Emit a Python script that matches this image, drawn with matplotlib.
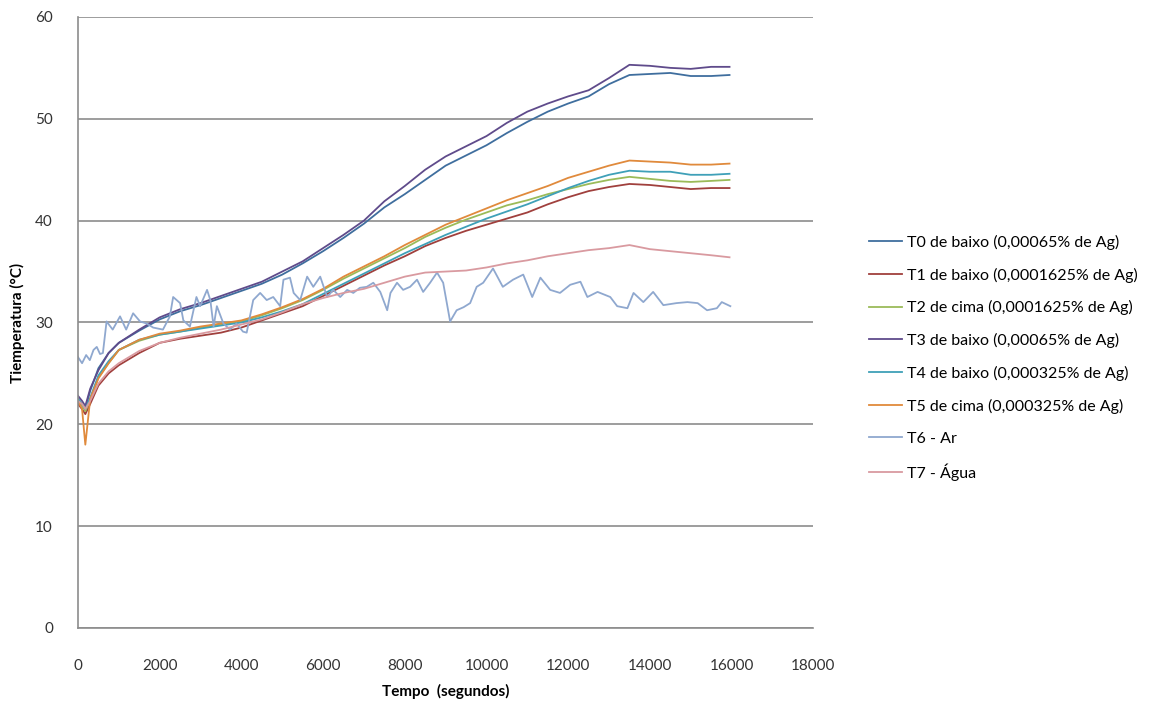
import matplotlib
matplotlib.use("Agg")
import matplotlib.pyplot as plt

plt.rcParams["font.family"] = ["Lato", "DejaVu Sans"]

# sample times (s) for the smooth probes
t_main = [0, 100, 180, 300, 500, 750, 1000, 1500, 2000, 2500, 3000, 3500, 4000,
          4500, 5000, 5500, 6000, 6500, 7000, 7500, 8000, 8500, 9000, 9500,
          10000, 10500, 11000, 11500, 12000, 12500, 13000, 13500, 14000, 14500,
          15000, 15500, 15950]

t0 = [22.5, 22.0, 21.5, 23.3, 25.5, 27.0, 28.0, 29.2, 30.3, 31.1, 31.7, 32.4, 33.1,
      33.8, 34.7, 35.8, 37.0, 38.3, 39.7, 41.3, 42.6, 44.0, 45.4, 46.4,
      47.4, 48.6, 49.7, 50.7, 51.5, 52.2, 53.4, 54.3, 54.4, 54.5, 54.2, 54.2, 54.3]
t1 = [22.0, 21.5, 21.0, 22.0, 23.8, 25.0, 25.8, 27.0, 28.0, 28.4, 28.7, 29.0, 29.5,
      30.2, 30.9, 31.6, 32.6, 33.6, 34.6, 35.6, 36.5, 37.5, 38.3, 39.0,
      39.6, 40.2, 40.8, 41.6, 42.3, 42.9, 43.3, 43.6, 43.5, 43.3, 43.1, 43.2, 43.2]
t2 = [22.3, 21.8, 21.3, 22.4, 24.6, 26.0, 27.3, 28.2, 28.8, 29.1, 29.5, 29.8, 30.1,
      30.7, 31.4, 32.2, 33.2, 34.3, 35.3, 36.3, 37.3, 38.4, 39.3, 40.1,
      40.8, 41.5, 42.0, 42.6, 43.1, 43.6, 44.0, 44.3, 44.1, 43.9, 43.8, 43.9, 44.0]
t3 = [22.8, 22.3, 21.8, 23.5, 25.3, 27.0, 28.0, 29.3, 30.5, 31.3, 31.9, 32.6, 33.3,
      34.0, 35.0, 36.0, 37.3, 38.6, 40.0, 41.9, 43.4, 45.0, 46.3, 47.3,
      48.3, 49.6, 50.7, 51.5, 52.2, 52.8, 54.0, 55.3, 55.2, 55.0, 54.9, 55.1, 55.1]
t4 = [22.5, 22.0, 21.5, 22.6, 24.8, 26.2, 27.3, 28.3, 28.8, 29.1, 29.4, 29.7, 30.0,
      30.5, 31.1, 31.8, 32.8, 33.8, 34.8, 35.8, 36.8, 37.7, 38.6, 39.4,
      40.2, 40.9, 41.6, 42.4, 43.2, 43.9, 44.5, 44.9, 44.8, 44.8, 44.5, 44.5, 44.6]
t5 = [22.3, 21.5, 18.0, 22.5, 24.5, 26.0, 27.3, 28.3, 28.9, 29.2, 29.6, 29.9, 30.2,
      30.8, 31.5, 32.3, 33.3, 34.5, 35.5, 36.5, 37.6, 38.6, 39.6, 40.4,
      41.2, 42.0, 42.7, 43.4, 44.2, 44.8, 45.4, 45.9, 45.8, 45.7, 45.5, 45.5, 45.6]
t7 = [22.3, 22.0, 21.5, 22.3, 24.0, 25.2, 26.0, 27.2, 28.0, 28.5, 28.9, 29.3, 29.8,
      30.3, 31.0, 31.8, 32.4, 32.9, 33.3, 33.9, 34.5, 34.9, 35.0, 35.1,
      35.4, 35.8, 36.1, 36.5, 36.8, 37.1, 37.3, 37.6, 37.2, 37.0, 36.8, 36.6, 36.4]

# air probe, sampled more densely because it is noisy
t_air = [0, 100, 200, 290, 380, 460, 540, 610, 700, 850, 1030, 1180, 1350, 1520,
         1680, 1840, 2080, 2250, 2330, 2500, 2580, 2740, 2900, 2990, 3160, 3240,
         3320, 3400, 3560, 3720, 3880, 4040, 4130, 4290, 4460, 4620, 4780, 4950,
         5030, 5190, 5280, 5440, 5610, 5760, 5930, 6100, 6250, 6420, 6590, 6740,
         6900, 7070, 7230, 7400, 7570, 7650, 7810, 7960, 8130, 8300, 8450, 8620,
         8790, 8940, 9110, 9270, 9440, 9600, 9760, 9920, 10160, 10400, 10650,
         10900, 11120, 11320, 11560, 11800, 12050, 12300, 12470, 12720, 13030,
         13200, 13450, 13600, 13840, 14080, 14330, 14650, 14920, 15170, 15400,
         15640, 15760, 15970]
t6 = [26.6, 26.0, 26.8, 26.3, 27.3, 27.6, 26.9, 27.0, 30.1, 29.3, 30.6, 29.3, 30.9,
      30.1, 29.9, 29.5, 29.3, 30.6, 32.5, 31.9, 30.2, 29.6, 32.5, 31.6, 33.2, 32.2,
      29.6, 31.6, 29.9, 29.3, 29.9, 29.1, 29.0, 32.2, 32.9, 32.2, 32.5, 31.6,
      34.2, 34.4, 32.9, 32.2, 34.5, 33.5, 34.5, 32.5, 33.2, 32.5, 33.2, 32.9,
      33.4, 33.5, 33.9, 33.0, 31.2, 32.9, 33.9, 33.2, 33.5, 34.2, 33.0, 33.9,
      34.9, 33.9, 30.1, 31.2, 31.5, 31.9, 33.5, 33.9, 35.3, 33.5, 34.2,
      34.7, 32.5, 34.4, 33.2, 32.9, 33.7, 34.0, 32.5, 33.0, 32.5,
      31.6, 31.4, 32.9, 32.0, 33.0, 31.7, 31.9, 32.0, 31.9, 31.2,
      31.4, 32.0, 31.6]

labels = [
    "T0 de baixo (0,00065% de Ag)",
    "T1 de baixo (0,0001625% de Ag)",
    "T2 de cima (0,0001625% de Ag)",
    "T3 de baixo (0,00065% de Ag)",
    "T4 de baixo (0,000325% de Ag)",
    "T5 de cima (0,000325% de Ag)",
    "T6 - Ar",
    "T7 - Água",
]
colors = ["#3F6E9E", "#A0403D", "#9BBB59", "#5F4B8B",
          "#3FA0B8", "#E08A3C", "#8FA8CF", "#D99AA0"]

series = [(t_main, t0), (t_main, t1), (t_main, t2), (t_main, t3),
          (t_main, t4), (t_main, t5), (t_air, t6), (t_main, t7)]

fig = plt.figure(figsize=(11.69, 7.06), dpi=100)
ax = fig.add_axes([0.0667, 0.1105, 0.629, 0.8655])

for (x, y), lab, c in zip(series, labels, colors):
    ax.plot(x, y, color=c, lw=1.3, label=lab)

ax.set_xlim(0, 18000)
ax.set_ylim(0, 60)
ax.set_xticks(range(0, 18001, 2000))
ax.set_yticks(range(0, 61, 10))
ax.grid(axis="y", color="#8c8c8c", lw=1.2)
ax.set_axisbelow(True)
for side in ("top", "right"):
    ax.spines[side].set_visible(False)
for side in ("left", "bottom"):
    ax.spines[side].set_color("#8c8c8c")
    ax.spines[side].set_linewidth(1.2)
ax.tick_params(length=0, labelsize=11, colors="#333333")
ax.tick_params(axis="x", pad=22)
ax.tick_params(axis="y", pad=18)

ax.set_xlabel("Tempo  (segundos)", fontsize=11, fontweight="bold")
ax.xaxis.set_label_coords(0.5, -0.092)
ax.set_ylabel("Tiemperatura (°C)", fontsize=11, fontweight="bold")
ax.yaxis.set_label_coords(-0.072, 0.5)

fig.legend(loc="upper left", bbox_to_anchor=(0.731, 0.688), frameon=False,
           fontsize=11.5, handlelength=2.1, handletextpad=0.3, labelspacing=1.11)

fig.savefig("out.png", dpi=100, facecolor="white")
